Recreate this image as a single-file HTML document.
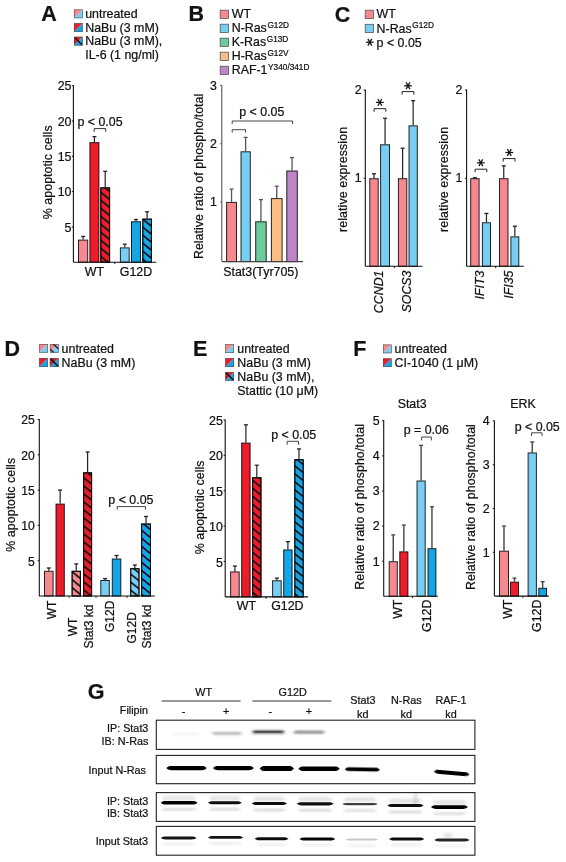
<!DOCTYPE html><html><head><meta charset="utf-8"><style>html,body{margin:0;padding:0;background:#fff;}svg{display:block;will-change:transform;}text{font-family:"Liberation Sans",sans-serif;stroke:#111;stroke-width:0.22px;}</style></head><body>
<svg width="566" height="862" viewBox="0 0 566 862" font-family="Liberation Sans, sans-serif" font-size="12.4">
<defs><pattern id="hatch" patternUnits="userSpaceOnUse" width="20" height="6.35" patternTransform="rotate(37)"><rect x="0" y="0" width="20" height="1.65" fill="#111"/></pattern></defs>
<rect width="566" height="862" fill="#fff"/>
<text x="41.3" y="21.0" font-weight="bold" font-size="21.5" fill="#111">A</text>
<polygon points="74,9.5 82.7,9.5 74,18.2" fill="#f6898f"/>
<polygon points="82.7,9.5 82.7,18.2 74,18.2" fill="#78cdf3"/>
<rect x="74.3" y="9.8" width="8.1" height="8.1" fill="none" stroke="#555" stroke-width="0.6"/>
<polygon points="74,23.3 82.7,23.3 74,32.0" fill="#ec1c2a"/>
<polygon points="82.7,23.3 82.7,32.0 74,32.0" fill="#15a4e4"/>
<rect x="74.3" y="23.6" width="8.1" height="8.1" fill="none" stroke="#555" stroke-width="0.6"/>
<polygon points="74,36.8 82.7,36.8 74,45.5" fill="#ec1c2a"/>
<polygon points="82.7,36.8 82.7,45.5 74,45.5" fill="#15a4e4"/>
<clipPath id="c1"><rect x="74" y="36.8" width="8.7" height="8.7"/></clipPath><g clip-path="url(#c1)">
<line x1="74.5" y1="37.3" x2="82.2" y2="45.0" stroke="#111" stroke-width="1.5"/>
<line x1="74" y1="40.714999999999996" x2="75.74" y2="42.455" stroke="#111" stroke-width="0.8"/>
</g>
<rect x="74.3" y="37.099999999999994" width="8.1" height="8.1" fill="none" stroke="#555" stroke-width="0.6"/>
<text x="85.2" y="18.0" fill="#111">untreated</text>
<text x="85.2" y="31.8" fill="#111">NaBu (3 mM)</text>
<text x="85.2" y="45.4" fill="#111">NaBu (3 mM),</text>
<text x="85.2" y="59.0" fill="#111">IL-6 (1 ng/ml)</text>
<line x1="73.4" y1="85.19999999999999" x2="73.4" y2="262.2" stroke="#111" stroke-width="1.1"/>
<line x1="71.80000000000001" y1="85.69999999999999" x2="73.4" y2="85.69999999999999" stroke="#111" stroke-width="1.0"/>
<text x="71.5" y="90.39999999999999" text-anchor="end" fill="#111">25</text>
<line x1="71.80000000000001" y1="121.0" x2="73.4" y2="121.0" stroke="#111" stroke-width="1.0"/>
<text x="71.5" y="125.7" text-anchor="end" fill="#111">20</text>
<line x1="71.80000000000001" y1="156.3" x2="73.4" y2="156.3" stroke="#111" stroke-width="1.0"/>
<text x="71.5" y="161.0" text-anchor="end" fill="#111">15</text>
<line x1="71.80000000000001" y1="191.6" x2="73.4" y2="191.6" stroke="#111" stroke-width="1.0"/>
<text x="71.5" y="196.29999999999998" text-anchor="end" fill="#111">10</text>
<line x1="71.80000000000001" y1="226.89999999999998" x2="73.4" y2="226.89999999999998" stroke="#111" stroke-width="1.0"/>
<text x="71.5" y="231.59999999999997" text-anchor="end" fill="#111">5</text>
<line x1="83.1" y1="239.608" x2="83.1" y2="236.43099999999998" stroke="#222" stroke-width="1.2"/>
<line x1="81.1" y1="236.43099999999998" x2="85.1" y2="236.43099999999998" stroke="#222" stroke-width="1.3"/>
<rect x="78.50" y="240.11" width="9.20" height="22.09" fill="#f6898f" stroke="rgba(0,0,0,0.84)" stroke-width="1"/>
<line x1="94.4" y1="142.18" x2="94.4" y2="136.6" stroke="#222" stroke-width="1.2"/>
<line x1="92.4" y1="136.6" x2="96.4" y2="136.6" stroke="#222" stroke-width="1.3"/>
<rect x="89.90" y="142.68" width="9.00" height="119.52" fill="#ec1c2a" stroke="rgba(0,0,0,0.84)" stroke-width="1"/>
<line x1="105.19999999999999" y1="187.36399999999998" x2="105.19999999999999" y2="171.3" stroke="#222" stroke-width="1.2"/>
<line x1="103.19999999999999" y1="171.3" x2="107.19999999999999" y2="171.3" stroke="#222" stroke-width="1.3"/>
<rect x="100.80" y="187.86" width="8.80" height="74.34" fill="#ec1c2a" stroke="rgba(0,0,0,0.84)" stroke-width="1"/>
<defs><pattern id="h1" patternUnits="userSpaceOnUse" width="40" height="6.22" patternTransform="translate(100.80 192.30) rotate(39)"><rect x="0" y="0" width="40" height="0.825" fill="#111"/><rect x="0" y="5.395" width="40" height="0.825" fill="#111"/></pattern></defs>
<rect x="100.80" y="187.86" width="8.80" height="74.34" fill="url(#h1)" stroke="rgba(0,0,0,0.84)" stroke-width="1"/>
<line x1="124.8" y1="247.374" x2="124.8" y2="244.197" stroke="#222" stroke-width="1.2"/>
<line x1="122.8" y1="244.197" x2="126.8" y2="244.197" stroke="#222" stroke-width="1.3"/>
<rect x="120.40" y="247.87" width="8.80" height="14.33" fill="#78cdf3" stroke="rgba(0,0,0,0.84)" stroke-width="1"/>
<line x1="136.0" y1="221.252" x2="136.0" y2="219.487" stroke="#222" stroke-width="1.2"/>
<line x1="134.0" y1="219.487" x2="138.0" y2="219.487" stroke="#222" stroke-width="1.3"/>
<rect x="131.50" y="221.75" width="9.00" height="40.45" fill="#15a4e4" stroke="rgba(0,0,0,0.84)" stroke-width="1"/>
<line x1="147.10000000000002" y1="218.6" x2="147.10000000000002" y2="211.8" stroke="#222" stroke-width="1.2"/>
<line x1="145.10000000000002" y1="211.8" x2="149.10000000000002" y2="211.8" stroke="#222" stroke-width="1.3"/>
<rect x="142.80" y="219.10" width="8.60" height="43.10" fill="#15a4e4" stroke="rgba(0,0,0,0.84)" stroke-width="1"/>
<defs><pattern id="h2" patternUnits="userSpaceOnUse" width="40" height="6.22" patternTransform="translate(142.80 219.20) rotate(39)"><rect x="0" y="0" width="40" height="0.825" fill="#111"/><rect x="0" y="5.395" width="40" height="0.825" fill="#111"/></pattern></defs>
<rect x="142.80" y="219.10" width="8.60" height="43.10" fill="url(#h2)" stroke="rgba(0,0,0,0.84)" stroke-width="1"/>
<line x1="73.4" y1="262.2" x2="156.4" y2="262.2" stroke="#111" stroke-width="1.1"/>
<line x1="114.8" y1="262.2" x2="114.8" y2="264.0" stroke="#111" stroke-width="1.0"/>
<text x="100.0" y="126.2" text-anchor="middle" fill="#111">p &lt; 0.05</text>
<path d="M94.2 131.8 L94.2 128.6 L105.7 128.6 L105.7 131.8" stroke="#333" stroke-width="1.0" fill="none"/>
<text x="94.4" y="276.0" text-anchor="middle" fill="#111">WT</text>
<text x="136.0" y="276.0" text-anchor="middle" fill="#111">G12D</text>
<text x="51.7" y="172.3" text-anchor="middle" transform="rotate(-90 51.7 172.3)" fill="#111" textLength="93.8" lengthAdjust="spacing">% apoptotic cells</text>
<text x="188.5" y="21.0" font-weight="bold" font-size="21.5" fill="#111">B</text>
<rect x="220.20000000000002" y="10.200000000000001" width="8.2" height="8.2" fill="#f6898f" stroke="#555" stroke-width="0.8"/>
<text x="231.7" y="18.4" fill="#111">WT</text>
<rect x="220.20000000000002" y="24.2" width="8.2" height="8.2" fill="#78cdf3" stroke="#555" stroke-width="0.8"/>
<text x="231.7" y="32.4" fill="#111">N-Ras<tspan dx="0.6" dy="-4.8" font-size="8.25">G12D</tspan></text>
<rect x="220.20000000000002" y="38.199999999999996" width="8.2" height="8.2" fill="#6ccb9a" stroke="#555" stroke-width="0.8"/>
<text x="231.7" y="46.4" fill="#111">K-Ras<tspan dx="0.6" dy="-4.8" font-size="8.25">G13D</tspan></text>
<rect x="220.20000000000002" y="52.199999999999996" width="8.2" height="8.2" fill="#fbbd84" stroke="#555" stroke-width="0.8"/>
<text x="231.7" y="60.4" fill="#111">H-Ras<tspan dx="0.6" dy="-4.8" font-size="8.25">G12V</tspan></text>
<rect x="220.20000000000002" y="66.2" width="8.2" height="8.2" fill="#bf85c8" stroke="#555" stroke-width="0.8"/>
<text x="231.7" y="74.39999999999999" fill="#111">RAF-1<tspan dx="0.6" dy="-4.8" font-size="8.25">Y340/341D</tspan></text>
<line x1="221.8" y1="84.89999999999999" x2="221.8" y2="261.6" stroke="#555" stroke-width="1.1"/>
<line x1="220.20000000000002" y1="85.39999999999999" x2="221.8" y2="85.39999999999999" stroke="#555" stroke-width="1.0"/>
<text x="216.8" y="89.69999999999999" text-anchor="end" fill="#111">3</text>
<line x1="220.20000000000002" y1="143.75" x2="221.8" y2="143.75" stroke="#555" stroke-width="1.0"/>
<text x="216.8" y="148.05" text-anchor="end" fill="#111">2</text>
<line x1="220.20000000000002" y1="202.1" x2="221.8" y2="202.1" stroke="#555" stroke-width="1.0"/>
<text x="216.8" y="206.4" text-anchor="end" fill="#111">1</text>
<line x1="231.55" y1="201.9" x2="231.55" y2="189.1" stroke="#555" stroke-width="1.3"/>
<line x1="229.55" y1="189.1" x2="233.55" y2="189.1" stroke="#555" stroke-width="1.3"/>
<rect x="226.60" y="202.40" width="9.90" height="59.20" fill="#f6898f" stroke="rgba(0,0,0,0.84)" stroke-width="1"/>
<line x1="245.65" y1="151.3" x2="245.65" y2="137.4" stroke="#555" stroke-width="1.3"/>
<line x1="243.65" y1="137.4" x2="247.65" y2="137.4" stroke="#555" stroke-width="1.3"/>
<rect x="241.00" y="151.80" width="9.30" height="109.80" fill="#78cdf3" stroke="rgba(0,0,0,0.84)" stroke-width="1"/>
<line x1="260.95" y1="221.3" x2="260.95" y2="199.6" stroke="#555" stroke-width="1.3"/>
<line x1="258.95" y1="199.6" x2="262.95" y2="199.6" stroke="#555" stroke-width="1.3"/>
<rect x="255.70" y="221.80" width="10.50" height="39.80" fill="#6ccb9a" stroke="rgba(0,0,0,0.84)" stroke-width="1"/>
<line x1="276.75" y1="198.1" x2="276.75" y2="186.2" stroke="#555" stroke-width="1.3"/>
<line x1="274.75" y1="186.2" x2="278.75" y2="186.2" stroke="#555" stroke-width="1.3"/>
<rect x="271.40" y="198.60" width="10.70" height="63.00" fill="#fbbd84" stroke="rgba(0,0,0,0.84)" stroke-width="1"/>
<line x1="292.05" y1="170.5" x2="292.05" y2="157.5" stroke="#555" stroke-width="1.3"/>
<line x1="290.05" y1="157.5" x2="294.05" y2="157.5" stroke="#555" stroke-width="1.3"/>
<rect x="286.80" y="171.00" width="10.50" height="90.60" fill="#bf85c8" stroke="rgba(0,0,0,0.84)" stroke-width="1"/>
<line x1="221.8" y1="261.6" x2="303.0" y2="261.6" stroke="#444" stroke-width="1.1"/>
<text x="261.8" y="116.0" text-anchor="middle" fill="#111">p &lt; 0.05</text>
<path d="M232.2 124.0 L232.2 121.0 L292.6 121.0 L292.6 124.0" stroke="#444" stroke-width="1.0" fill="none"/>
<path d="M232.2 132.7 L232.2 129.7 L245.5 129.7 L245.5 132.7" stroke="#444" stroke-width="1.0" fill="none"/>
<text x="260.8" y="276.0" text-anchor="middle" fill="#111">Stat3(Tyr705)</text>
<text x="202.9" y="176.4" text-anchor="middle" transform="rotate(-90 202.9 176.4)" fill="#111" textLength="165.4" lengthAdjust="spacing">Relative ratio of phospho/total</text>
<text x="334.8" y="21.5" font-weight="bold" font-size="21.5" fill="#111">C</text>
<rect x="365.2" y="10.200000000000001" width="8.2" height="8.2" fill="#f6898f" stroke="#555" stroke-width="0.8"/>
<rect x="365.2" y="24.299999999999997" width="8.2" height="8.2" fill="#78cdf3" stroke="#555" stroke-width="0.8"/>
<text x="376.6" y="18.4" fill="#111">WT</text>
<text x="376.6" y="32.5" fill="#111">N-Ras<tspan dx="0.6" dy="-4.8" font-size="8.25">G12D</tspan></text>
<line x1="365.9" y1="42.2" x2="373.7" y2="42.2" stroke="#111" stroke-width="1.25"/>
<line x1="367.85" y1="38.82" x2="371.75" y2="45.58" stroke="#111" stroke-width="1.25"/>
<line x1="371.75" y1="38.82" x2="367.85" y2="45.58" stroke="#111" stroke-width="1.25"/>
<text x="376.6" y="47.0" fill="#111">p &lt; 0.05</text>
<line x1="365.3" y1="89.60000000000002" x2="365.3" y2="266.3" stroke="#111" stroke-width="1.1"/>
<line x1="363.7" y1="90.10000000000002" x2="365.3" y2="90.10000000000002" stroke="#111" stroke-width="1.0"/>
<text x="361.7" y="94.10000000000002" text-anchor="end" fill="#111">2</text>
<line x1="363.7" y1="178.20000000000002" x2="365.3" y2="178.20000000000002" stroke="#111" stroke-width="1.0"/>
<text x="361.7" y="182.20000000000002" text-anchor="end" fill="#111">1</text>
<line x1="374.0" y1="178.20000000000002" x2="374.0" y2="173.79500000000002" stroke="#222" stroke-width="1.2"/>
<line x1="372.0" y1="173.79500000000002" x2="376.0" y2="173.79500000000002" stroke="#222" stroke-width="1.3"/>
<rect x="369.80" y="178.70" width="8.40" height="87.60" fill="#f6898f" stroke="rgba(0,0,0,0.84)" stroke-width="1"/>
<line x1="385.05" y1="144.28150000000002" x2="385.05" y2="118.29200000000003" stroke="#222" stroke-width="1.2"/>
<line x1="383.05" y1="118.29200000000003" x2="387.05" y2="118.29200000000003" stroke="#222" stroke-width="1.3"/>
<rect x="380.60" y="144.78" width="8.90" height="121.52" fill="#78cdf3" stroke="rgba(0,0,0,0.84)" stroke-width="1"/>
<line x1="402.6" y1="178.20000000000002" x2="402.6" y2="148.246" stroke="#222" stroke-width="1.2"/>
<line x1="400.6" y1="148.246" x2="404.6" y2="148.246" stroke="#222" stroke-width="1.3"/>
<rect x="398.40" y="178.70" width="8.40" height="87.60" fill="#f6898f" stroke="rgba(0,0,0,0.84)" stroke-width="1"/>
<line x1="413.15" y1="125.34" x2="413.15" y2="100.67200000000003" stroke="#222" stroke-width="1.2"/>
<line x1="411.15" y1="100.67200000000003" x2="415.15" y2="100.67200000000003" stroke="#222" stroke-width="1.3"/>
<rect x="409.00" y="125.84" width="8.30" height="140.46" fill="#78cdf3" stroke="rgba(0,0,0,0.84)" stroke-width="1"/>
<line x1="365.3" y1="266.3" x2="422.5" y2="266.3" stroke="#111" stroke-width="1.1"/>
<line x1="394.40000000000003" y1="266.3" x2="394.40000000000003" y2="268.1" stroke="#111" stroke-width="1.0"/>
<text x="347.2" y="179.45" text-anchor="middle" transform="rotate(-90 347.2 179.45)" fill="#111" textLength="105.1" lengthAdjust="spacing">relative expression</text>
<line x1="466.6" y1="89.60000000000002" x2="466.6" y2="266.3" stroke="#111" stroke-width="1.1"/>
<line x1="465.0" y1="90.10000000000002" x2="466.6" y2="90.10000000000002" stroke="#111" stroke-width="1.0"/>
<text x="462.3" y="94.10000000000002" text-anchor="end" fill="#111">2</text>
<line x1="465.0" y1="178.20000000000002" x2="466.6" y2="178.20000000000002" stroke="#111" stroke-width="1.0"/>
<text x="462.3" y="182.20000000000002" text-anchor="end" fill="#111">1</text>
<line x1="474.9" y1="178.20000000000002" x2="474.9" y2="177.75950000000003" stroke="#222" stroke-width="1.2"/>
<line x1="472.9" y1="177.75950000000003" x2="476.9" y2="177.75950000000003" stroke="#222" stroke-width="1.3"/>
<rect x="470.70" y="178.70" width="8.40" height="87.60" fill="#f6898f" stroke="rgba(0,0,0,0.84)" stroke-width="1"/>
<line x1="486.45" y1="222.25" x2="486.45" y2="213.44000000000003" stroke="#222" stroke-width="1.2"/>
<line x1="484.45" y1="213.44000000000003" x2="488.45" y2="213.44000000000003" stroke="#222" stroke-width="1.3"/>
<rect x="482.40" y="222.75" width="8.10" height="43.55" fill="#78cdf3" stroke="rgba(0,0,0,0.84)" stroke-width="1"/>
<line x1="503.75" y1="178.20000000000002" x2="503.75" y2="165.86600000000004" stroke="#222" stroke-width="1.2"/>
<line x1="501.75" y1="165.86600000000004" x2="505.75" y2="165.86600000000004" stroke="#222" stroke-width="1.3"/>
<rect x="499.50" y="178.70" width="8.50" height="87.60" fill="#f6898f" stroke="rgba(0,0,0,0.84)" stroke-width="1"/>
<line x1="514.8499999999999" y1="236.346" x2="514.8499999999999" y2="226.21450000000002" stroke="#222" stroke-width="1.2"/>
<line x1="512.8499999999999" y1="226.21450000000002" x2="516.8499999999999" y2="226.21450000000002" stroke="#222" stroke-width="1.3"/>
<rect x="510.90" y="236.85" width="7.90" height="29.45" fill="#78cdf3" stroke="rgba(0,0,0,0.84)" stroke-width="1"/>
<line x1="466.6" y1="266.3" x2="523.8000000000001" y2="266.3" stroke="#111" stroke-width="1.1"/>
<line x1="495.70000000000005" y1="266.3" x2="495.70000000000005" y2="268.1" stroke="#111" stroke-width="1.0"/>
<text x="448.5" y="179.45" text-anchor="middle" transform="rotate(-90 448.5 179.45)" fill="#111" textLength="105.1" lengthAdjust="spacing">relative expression</text>
<text x="383.0" y="270.5" text-anchor="end" font-style="italic" transform="rotate(-90 383.0 270.5)" fill="#111">CCND1</text>
<text x="410.90000000000003" y="270.5" text-anchor="end" font-style="italic" transform="rotate(-90 410.90000000000003 270.5)" fill="#111">SOCS3</text>
<text x="484.3" y="270.5" text-anchor="end" font-style="italic" transform="rotate(-90 484.3 270.5)" fill="#111">IFIT3</text>
<text x="513.3" y="270.5" text-anchor="end" font-style="italic" transform="rotate(-90 513.3 270.5)" fill="#111">IFI35</text>
<path d="M374.1 111.7 L374.1 108.7 L385.8 108.7 L385.8 111.7" stroke="#222" stroke-width="1.0" fill="none"/>
<line x1="375.9" y1="102.4" x2="383.7" y2="102.4" stroke="#111" stroke-width="1.25"/>
<line x1="377.85" y1="99.02" x2="381.75" y2="105.78" stroke="#111" stroke-width="1.25"/>
<line x1="381.75" y1="99.02" x2="377.85" y2="105.78" stroke="#111" stroke-width="1.25"/>
<path d="M402.1 94.6 L402.1 91.6 L413.8 91.6 L413.8 94.6" stroke="#222" stroke-width="1.0" fill="none"/>
<line x1="404.1" y1="85.8" x2="411.9" y2="85.8" stroke="#111" stroke-width="1.25"/>
<line x1="406.05" y1="82.42" x2="409.95" y2="89.18" stroke="#111" stroke-width="1.25"/>
<line x1="409.95" y1="82.42" x2="406.05" y2="89.18" stroke="#111" stroke-width="1.25"/>
<path d="M475.1 172.2 L475.1 169.2 L486.8 169.2 L486.8 172.2" stroke="#222" stroke-width="1.0" fill="none"/>
<line x1="476.9" y1="162.8" x2="484.7" y2="162.8" stroke="#111" stroke-width="1.25"/>
<line x1="478.85" y1="159.42" x2="482.75" y2="166.18" stroke="#111" stroke-width="1.25"/>
<line x1="482.75" y1="159.42" x2="478.85" y2="166.18" stroke="#111" stroke-width="1.25"/>
<path d="M503.2 161.6 L503.2 158.6 L515.0 158.6 L515.0 161.6" stroke="#222" stroke-width="1.0" fill="none"/>
<line x1="505.4" y1="152.5" x2="513.2" y2="152.5" stroke="#111" stroke-width="1.25"/>
<line x1="507.35" y1="149.12" x2="511.25" y2="155.88" stroke="#111" stroke-width="1.25"/>
<line x1="511.25" y1="149.12" x2="507.35" y2="155.88" stroke="#111" stroke-width="1.25"/>
<text x="4.5" y="355.8" font-weight="bold" font-size="21.5" fill="#111">D</text>
<polygon points="39.2,344.0 48.0,344.0 39.2,352.8" fill="#f6898f"/>
<polygon points="48.0,344.0 48.0,352.8 39.2,352.8" fill="#78cdf3"/>
<rect x="39.5" y="344.3" width="8.200000000000001" height="8.200000000000001" fill="none" stroke="#555" stroke-width="0.6"/>
<polygon points="49.9,344.0 58.7,344.0 49.9,352.8" fill="#f6898f"/>
<polygon points="58.7,344.0 58.7,352.8 49.9,352.8" fill="#78cdf3"/>
<clipPath id="c2"><rect x="49.9" y="344.0" width="8.8" height="8.8"/></clipPath><g clip-path="url(#c2)">
<line x1="53.24" y1="344.0" x2="58.7" y2="349.1" stroke="#111" stroke-width="1.3"/>
<line x1="49.9" y1="348.84" x2="53.86" y2="352.8" stroke="#111" stroke-width="1.3"/>
</g>
<rect x="50.199999999999996" y="344.3" width="8.200000000000001" height="8.200000000000001" fill="none" stroke="#555" stroke-width="0.6"/>
<polygon points="39.2,358.1 48.0,358.1 39.2,366.90000000000003" fill="#ec1c2a"/>
<polygon points="48.0,358.1 48.0,366.90000000000003 39.2,366.90000000000003" fill="#15a4e4"/>
<rect x="39.5" y="358.40000000000003" width="8.200000000000001" height="8.200000000000001" fill="none" stroke="#555" stroke-width="0.6"/>
<polygon points="49.9,358.1 58.7,358.1 49.9,366.90000000000003" fill="#ec1c2a"/>
<polygon points="58.7,358.1 58.7,366.90000000000003 49.9,366.90000000000003" fill="#15a4e4"/>
<clipPath id="c3"><rect x="49.9" y="358.1" width="8.8" height="8.8"/></clipPath><g clip-path="url(#c3)">
<line x1="50.4" y1="358.6" x2="58.2" y2="366.40000000000003" stroke="#111" stroke-width="1.5"/>
<line x1="49.9" y1="362.06" x2="51.66" y2="363.82000000000005" stroke="#111" stroke-width="0.8"/>
</g>
<rect x="50.199999999999996" y="358.40000000000003" width="8.200000000000001" height="8.200000000000001" fill="none" stroke="#555" stroke-width="0.6"/>
<text x="61.6" y="352.6" fill="#111">untreated</text>
<text x="61.6" y="366.9" fill="#111">NaBu (3 mM)</text>
<line x1="39.3" y1="419.0" x2="39.3" y2="596.0" stroke="#111" stroke-width="1.1"/>
<line x1="37.699999999999996" y1="419.5" x2="39.3" y2="419.5" stroke="#111" stroke-width="1.0"/>
<text x="34.699999999999996" y="424.3" text-anchor="end" font-size="12.1" fill="#111">25</text>
<line x1="37.699999999999996" y1="454.8" x2="39.3" y2="454.8" stroke="#111" stroke-width="1.0"/>
<text x="34.699999999999996" y="459.6" text-anchor="end" font-size="12.1" fill="#111">20</text>
<line x1="37.699999999999996" y1="490.1" x2="39.3" y2="490.1" stroke="#111" stroke-width="1.0"/>
<text x="34.699999999999996" y="494.90000000000003" text-anchor="end" font-size="12.1" fill="#111">15</text>
<line x1="37.699999999999996" y1="525.4" x2="39.3" y2="525.4" stroke="#111" stroke-width="1.0"/>
<text x="34.699999999999996" y="530.1999999999999" text-anchor="end" font-size="12.1" fill="#111">10</text>
<line x1="37.699999999999996" y1="560.7" x2="39.3" y2="560.7" stroke="#111" stroke-width="1.0"/>
<text x="34.699999999999996" y="565.5" text-anchor="end" font-size="12.1" fill="#111">5</text>
<line x1="48.8" y1="570.8" x2="48.8" y2="568.0" stroke="#222" stroke-width="1.2"/>
<line x1="46.8" y1="568.0" x2="50.8" y2="568.0" stroke="#222" stroke-width="1.3"/>
<rect x="44.50" y="571.30" width="8.60" height="24.70" fill="#f6898f" stroke="rgba(0,0,0,0.84)" stroke-width="1"/>
<line x1="60.15" y1="503.6" x2="60.15" y2="490.1" stroke="#222" stroke-width="1.2"/>
<line x1="58.15" y1="490.1" x2="62.15" y2="490.1" stroke="#222" stroke-width="1.3"/>
<rect x="56.00" y="504.10" width="8.30" height="91.90" fill="#ec1c2a" stroke="rgba(0,0,0,0.84)" stroke-width="1"/>
<line x1="76.25" y1="570.8" x2="76.25" y2="563.9" stroke="#222" stroke-width="1.2"/>
<line x1="74.25" y1="563.9" x2="78.25" y2="563.9" stroke="#222" stroke-width="1.3"/>
<rect x="72.10" y="571.30" width="8.30" height="24.70" fill="#f6898f" stroke="rgba(0,0,0,0.84)" stroke-width="1"/>
<defs><pattern id="h3" patternUnits="userSpaceOnUse" width="40" height="6.22" patternTransform="translate(72.10 571.70) rotate(39)"><rect x="0" y="0" width="40" height="0.825" fill="#111"/><rect x="0" y="5.395" width="40" height="0.825" fill="#111"/></pattern></defs>
<rect x="72.10" y="571.30" width="8.30" height="24.70" fill="url(#h3)" stroke="rgba(0,0,0,0.84)" stroke-width="1"/>
<line x1="87.6" y1="472.3" x2="87.6" y2="452.0" stroke="#222" stroke-width="1.2"/>
<line x1="85.6" y1="452.0" x2="89.6" y2="452.0" stroke="#222" stroke-width="1.3"/>
<rect x="83.60" y="472.80" width="8.00" height="123.20" fill="#ec1c2a" stroke="rgba(0,0,0,0.84)" stroke-width="1"/>
<defs><pattern id="h4" patternUnits="userSpaceOnUse" width="40" height="6.22" patternTransform="translate(83.60 477.70) rotate(39)"><rect x="0" y="0" width="40" height="0.825" fill="#111"/><rect x="0" y="5.395" width="40" height="0.825" fill="#111"/></pattern></defs>
<rect x="83.60" y="472.80" width="8.00" height="123.20" fill="url(#h4)" stroke="rgba(0,0,0,0.84)" stroke-width="1"/>
<line x1="105.05" y1="580.0" x2="105.05" y2="578.6" stroke="#222" stroke-width="1.2"/>
<line x1="103.05" y1="578.6" x2="107.05" y2="578.6" stroke="#222" stroke-width="1.3"/>
<rect x="100.80" y="580.50" width="8.50" height="15.50" fill="#78cdf3" stroke="rgba(0,0,0,0.84)" stroke-width="1"/>
<line x1="116.55" y1="558.5" x2="116.55" y2="555.5" stroke="#222" stroke-width="1.2"/>
<line x1="114.55" y1="555.5" x2="118.55" y2="555.5" stroke="#222" stroke-width="1.3"/>
<rect x="112.30" y="559.00" width="8.50" height="37.00" fill="#15a4e4" stroke="rgba(0,0,0,0.84)" stroke-width="1"/>
<line x1="134.85" y1="568.2" x2="134.85" y2="565.0" stroke="#222" stroke-width="1.2"/>
<line x1="132.85" y1="565.0" x2="136.85" y2="565.0" stroke="#222" stroke-width="1.3"/>
<rect x="130.70" y="568.70" width="8.30" height="27.30" fill="#78cdf3" stroke="rgba(0,0,0,0.84)" stroke-width="1"/>
<defs><pattern id="h5" patternUnits="userSpaceOnUse" width="40" height="6.22" patternTransform="translate(130.70 574.10) rotate(39)"><rect x="0" y="0" width="40" height="0.825" fill="#111"/><rect x="0" y="5.395" width="40" height="0.825" fill="#111"/></pattern></defs>
<rect x="130.70" y="568.70" width="8.30" height="27.30" fill="url(#h5)" stroke="rgba(0,0,0,0.84)" stroke-width="1"/>
<line x1="146.05" y1="523.5" x2="146.05" y2="516.5" stroke="#222" stroke-width="1.2"/>
<line x1="144.05" y1="516.5" x2="148.05" y2="516.5" stroke="#222" stroke-width="1.3"/>
<rect x="141.60" y="524.00" width="8.90" height="72.00" fill="#15a4e4" stroke="rgba(0,0,0,0.84)" stroke-width="1"/>
<defs><pattern id="h6" patternUnits="userSpaceOnUse" width="40" height="6.22" patternTransform="translate(141.60 530.40) rotate(39)"><rect x="0" y="0" width="40" height="0.825" fill="#111"/><rect x="0" y="5.395" width="40" height="0.825" fill="#111"/></pattern></defs>
<rect x="141.60" y="524.00" width="8.90" height="72.00" fill="url(#h6)" stroke="rgba(0,0,0,0.84)" stroke-width="1"/>
<line x1="39.0" y1="596.0" x2="154.8" y2="596.0" stroke="#111" stroke-width="1.1"/>
<line x1="69.0" y1="596.0" x2="69.0" y2="597.8" stroke="#111" stroke-width="1.0"/>
<line x1="96.0" y1="596.0" x2="96.0" y2="597.8" stroke="#111" stroke-width="1.0"/>
<line x1="127.0" y1="596.0" x2="127.0" y2="597.8" stroke="#111" stroke-width="1.0"/>
<text x="130.9" y="504.1" text-anchor="middle" fill="#111">p &lt; 0.05</text>
<path d="M117.2 509.6 L117.2 506.6 L145.5 506.6 L145.5 509.6" stroke="#444" stroke-width="1.0" fill="none"/>
<text x="15.1" y="504.8" text-anchor="middle" transform="rotate(-90 15.1 504.8)" fill="#111" textLength="93.8" lengthAdjust="spacing">% apoptotic cells</text>
<text x="56.4" y="600.6" text-anchor="end" font-size="12" transform="rotate(-90 56.4 600.6)" fill="#111">WT</text>
<text x="76.6" y="627.0" text-anchor="middle" font-size="12" transform="rotate(-90 76.6 627.0)" fill="#111">WT</text>
<text x="93.0" y="626.5" text-anchor="middle" font-size="12" transform="rotate(-90 93.0 626.5)" fill="#111">Stat3 kd</text>
<text x="114.0" y="600.6" text-anchor="end" font-size="12" transform="rotate(-90 114.0 600.6)" fill="#111">G12D</text>
<text x="136.3" y="627.8" text-anchor="middle" font-size="12" transform="rotate(-90 136.3 627.8)" fill="#111">G12D</text>
<text x="151.2" y="626.5" text-anchor="middle" font-size="12" transform="rotate(-90 151.2 626.5)" fill="#111">Stat3 kd</text>
<text x="193.0" y="355.8" font-weight="bold" font-size="21.5" fill="#111">E</text>
<polygon points="225.3,344.3 234.0,344.3 225.3,353.0" fill="#f6898f"/>
<polygon points="234.0,344.3 234.0,353.0 225.3,353.0" fill="#78cdf3"/>
<rect x="225.60000000000002" y="344.6" width="8.1" height="8.1" fill="none" stroke="#555" stroke-width="0.6"/>
<polygon points="225.3,358.3 234.0,358.3 225.3,367.0" fill="#ec1c2a"/>
<polygon points="234.0,358.3 234.0,367.0 225.3,367.0" fill="#15a4e4"/>
<rect x="225.60000000000002" y="358.6" width="8.1" height="8.1" fill="none" stroke="#555" stroke-width="0.6"/>
<polygon points="225.3,372.0 234.0,372.0 225.3,380.7" fill="#ec1c2a"/>
<polygon points="234.0,372.0 234.0,380.7 225.3,380.7" fill="#15a4e4"/>
<clipPath id="c4"><rect x="225.3" y="372.0" width="8.7" height="8.7"/></clipPath><g clip-path="url(#c4)">
<line x1="225.8" y1="372.5" x2="233.5" y2="380.2" stroke="#111" stroke-width="1.5"/>
<line x1="225.3" y1="375.915" x2="227.04000000000002" y2="377.655" stroke="#111" stroke-width="0.8"/>
</g>
<rect x="225.60000000000002" y="372.3" width="8.1" height="8.1" fill="none" stroke="#555" stroke-width="0.6"/>
<text x="237.3" y="353.1" fill="#111">untreated</text>
<text x="237.3" y="367.4" fill="#111">NaBu (3 mM)</text>
<text x="237.3" y="381.1" fill="#111">NaBu (3 mM),</text>
<text x="237.3" y="395.1" fill="#111">Stattic (10 &#956;M)</text>
<line x1="225.2" y1="419.4" x2="225.2" y2="596.9" stroke="#111" stroke-width="1.1"/>
<line x1="223.6" y1="419.9" x2="225.2" y2="419.9" stroke="#111" stroke-width="1.0"/>
<text x="222.89999999999998" y="424.9" text-anchor="end" fill="#111">25</text>
<line x1="223.6" y1="455.29999999999995" x2="225.2" y2="455.29999999999995" stroke="#111" stroke-width="1.0"/>
<text x="222.89999999999998" y="460.29999999999995" text-anchor="end" fill="#111">20</text>
<line x1="223.6" y1="490.7" x2="225.2" y2="490.7" stroke="#111" stroke-width="1.0"/>
<text x="222.89999999999998" y="495.7" text-anchor="end" fill="#111">15</text>
<line x1="223.6" y1="526.1" x2="225.2" y2="526.1" stroke="#111" stroke-width="1.0"/>
<text x="222.89999999999998" y="531.1" text-anchor="end" fill="#111">10</text>
<line x1="223.6" y1="561.5" x2="225.2" y2="561.5" stroke="#111" stroke-width="1.0"/>
<text x="222.89999999999998" y="566.5" text-anchor="end" fill="#111">5</text>
<line x1="234.89999999999998" y1="571.412" x2="234.89999999999998" y2="566.102" stroke="#222" stroke-width="1.2"/>
<line x1="232.89999999999998" y1="566.102" x2="236.89999999999998" y2="566.102" stroke="#222" stroke-width="1.3"/>
<rect x="230.60" y="571.91" width="8.60" height="24.99" fill="#f6898f" stroke="rgba(0,0,0,0.84)" stroke-width="1"/>
<line x1="245.89999999999998" y1="442.556" x2="245.89999999999998" y2="424.856" stroke="#222" stroke-width="1.2"/>
<line x1="243.89999999999998" y1="424.856" x2="247.89999999999998" y2="424.856" stroke="#222" stroke-width="1.3"/>
<rect x="241.70" y="443.06" width="8.40" height="153.84" fill="#ec1c2a" stroke="rgba(0,0,0,0.84)" stroke-width="1"/>
<line x1="256.8" y1="477.248" x2="256.8" y2="465.212" stroke="#222" stroke-width="1.2"/>
<line x1="254.8" y1="465.212" x2="258.8" y2="465.212" stroke="#222" stroke-width="1.3"/>
<rect x="252.60" y="477.75" width="8.40" height="119.15" fill="#ec1c2a" stroke="rgba(0,0,0,0.84)" stroke-width="1"/>
<defs><pattern id="h7" patternUnits="userSpaceOnUse" width="40" height="6.22" patternTransform="translate(252.60 480.30) rotate(39)"><rect x="0" y="0" width="40" height="0.825" fill="#111"/><rect x="0" y="5.395" width="40" height="0.825" fill="#111"/></pattern></defs>
<rect x="252.60" y="477.75" width="8.40" height="119.15" fill="url(#h7)" stroke="rgba(0,0,0,0.84)" stroke-width="1"/>
<line x1="276.9" y1="580.262" x2="276.9" y2="578.1379999999999" stroke="#222" stroke-width="1.2"/>
<line x1="274.9" y1="578.1379999999999" x2="278.9" y2="578.1379999999999" stroke="#222" stroke-width="1.3"/>
<rect x="272.60" y="580.76" width="8.60" height="16.14" fill="#78cdf3" stroke="rgba(0,0,0,0.84)" stroke-width="1"/>
<line x1="287.9" y1="549.4639999999999" x2="287.9" y2="541.6759999999999" stroke="#222" stroke-width="1.2"/>
<line x1="285.9" y1="541.6759999999999" x2="289.9" y2="541.6759999999999" stroke="#222" stroke-width="1.3"/>
<rect x="283.70" y="549.96" width="8.40" height="46.94" fill="#15a4e4" stroke="rgba(0,0,0,0.84)" stroke-width="1"/>
<line x1="299.0" y1="459.19399999999996" x2="299.0" y2="448.928" stroke="#222" stroke-width="1.2"/>
<line x1="297.0" y1="448.928" x2="301.0" y2="448.928" stroke="#222" stroke-width="1.3"/>
<rect x="294.80" y="459.69" width="8.40" height="137.21" fill="#15a4e4" stroke="rgba(0,0,0,0.84)" stroke-width="1"/>
<defs><pattern id="h8" patternUnits="userSpaceOnUse" width="40" height="6.22" patternTransform="translate(294.80 465.80) rotate(39)"><rect x="0" y="0" width="40" height="0.825" fill="#111"/><rect x="0" y="5.395" width="40" height="0.825" fill="#111"/></pattern></defs>
<rect x="294.80" y="459.69" width="8.40" height="137.21" fill="url(#h8)" stroke="rgba(0,0,0,0.84)" stroke-width="1"/>
<line x1="225.0" y1="596.9" x2="308.2" y2="596.9" stroke="#111" stroke-width="1.1"/>
<line x1="266.1" y1="596.9" x2="266.1" y2="598.6999999999999" stroke="#111" stroke-width="1.0"/>
<text x="293.7" y="438.5" text-anchor="middle" fill="#111">p &lt; 0.05</text>
<path d="M287.2 444.8 L287.2 441.3 L298.6 441.3 L298.6 444.8" stroke="#444" stroke-width="1.0" fill="none"/>
<text x="246.5" y="609.9" text-anchor="middle" fill="#111">WT</text>
<text x="287.4" y="609.9" text-anchor="middle" fill="#111">G12D</text>
<text x="203.8" y="507.4" text-anchor="middle" transform="rotate(-90 203.8 507.4)" fill="#111" textLength="93.7" lengthAdjust="spacing">% apoptotic cells</text>
<text x="353.2" y="356.0" font-weight="bold" font-size="21.5" fill="#111">F</text>
<polygon points="383.0,344.6 391.6,344.6 383.0,353.20000000000005" fill="#f6898f"/>
<polygon points="391.6,344.6 391.6,353.20000000000005 383.0,353.20000000000005" fill="#78cdf3"/>
<rect x="383.3" y="344.90000000000003" width="8.0" height="8.0" fill="none" stroke="#555" stroke-width="0.6"/>
<polygon points="383.0,358.4 391.6,358.4 383.0,367.0" fill="#ec1c2a"/>
<polygon points="391.6,358.4 391.6,367.0 383.0,367.0" fill="#15a4e4"/>
<rect x="383.3" y="358.7" width="8.0" height="8.0" fill="none" stroke="#555" stroke-width="0.6"/>
<text x="394.6" y="352.9" fill="#111">untreated</text>
<text x="394.6" y="366.8" fill="#111">CI-1040 (1 &#956;M)</text>
<text x="412.1" y="407.5" text-anchor="middle" fill="#111">Stat3</text>
<text x="523.0" y="407.5" text-anchor="middle" fill="#111">ERK</text>
<line x1="383.7" y1="420.29999999999995" x2="383.7" y2="596.3" stroke="#111" stroke-width="1.1"/>
<line x1="382.09999999999997" y1="420.79999999999995" x2="383.7" y2="420.79999999999995" stroke="#111" stroke-width="1.0"/>
<text x="379.7" y="425.09999999999997" text-anchor="end" fill="#111">5</text>
<line x1="382.09999999999997" y1="455.9" x2="383.7" y2="455.9" stroke="#111" stroke-width="1.0"/>
<text x="379.7" y="460.2" text-anchor="end" fill="#111">4</text>
<line x1="382.09999999999997" y1="490.99999999999994" x2="383.7" y2="490.99999999999994" stroke="#111" stroke-width="1.0"/>
<text x="379.7" y="495.29999999999995" text-anchor="end" fill="#111">3</text>
<line x1="382.09999999999997" y1="526.0999999999999" x2="383.7" y2="526.0999999999999" stroke="#111" stroke-width="1.0"/>
<text x="379.7" y="530.3999999999999" text-anchor="end" fill="#111">2</text>
<line x1="382.09999999999997" y1="561.1999999999999" x2="383.7" y2="561.1999999999999" stroke="#111" stroke-width="1.0"/>
<text x="379.7" y="565.4999999999999" text-anchor="end" fill="#111">1</text>
<line x1="393.25" y1="561.1999999999999" x2="393.25" y2="534.875" stroke="#444" stroke-width="1.4"/>
<line x1="391.25" y1="534.875" x2="395.25" y2="534.875" stroke="#444" stroke-width="1.3"/>
<rect x="389.20" y="561.70" width="8.10" height="34.60" fill="#f6898f" stroke="rgba(0,0,0,0.84)" stroke-width="1"/>
<line x1="403.85" y1="551.372" x2="403.85" y2="525.0469999999999" stroke="#444" stroke-width="1.4"/>
<line x1="401.85" y1="525.0469999999999" x2="405.85" y2="525.0469999999999" stroke="#444" stroke-width="1.3"/>
<rect x="399.80" y="551.87" width="8.10" height="44.43" fill="#ec1c2a" stroke="rgba(0,0,0,0.84)" stroke-width="1"/>
<line x1="421.1" y1="480.5" x2="421.1" y2="445.36999999999995" stroke="#444" stroke-width="1.4"/>
<line x1="419.1" y1="445.36999999999995" x2="423.1" y2="445.36999999999995" stroke="#444" stroke-width="1.3"/>
<rect x="417.00" y="481.00" width="8.20" height="115.30" fill="#78cdf3" stroke="rgba(0,0,0,0.84)" stroke-width="1"/>
<line x1="431.95" y1="548.213" x2="431.95" y2="506.79499999999996" stroke="#444" stroke-width="1.4"/>
<line x1="429.95" y1="506.79499999999996" x2="433.95" y2="506.79499999999996" stroke="#444" stroke-width="1.3"/>
<rect x="428.00" y="548.71" width="7.90" height="47.59" fill="#15a4e4" stroke="rgba(0,0,0,0.84)" stroke-width="1"/>
<line x1="383.7" y1="596.3" x2="438.0" y2="596.3" stroke="#111" stroke-width="1.1"/>
<line x1="412.4" y1="596.3" x2="412.4" y2="598.0999999999999" stroke="#111" stroke-width="1.0"/>
<text x="426.3" y="434.4" text-anchor="middle" fill="#111">p = 0.06</text>
<path d="M421.6 440.4 L421.6 437.0 L431.3 437.0 L431.3 440.4" stroke="#444" stroke-width="1.0" fill="none"/>
<text x="364.3" y="506.9" text-anchor="middle" transform="rotate(-90 364.3 506.9)" fill="#111" textLength="165.8" lengthAdjust="spacing">Relative ratio of phospho/total</text>
<text x="401.6" y="599.6" text-anchor="end" transform="rotate(-90 401.6 599.6)" fill="#111">WT</text>
<text x="430.6" y="599.6" text-anchor="end" transform="rotate(-90 430.6 599.6)" fill="#111">G12D</text>
<line x1="494.4" y1="420.40000000000003" x2="494.4" y2="596.1" stroke="#111" stroke-width="1.1"/>
<line x1="492.79999999999995" y1="420.90000000000003" x2="494.4" y2="420.90000000000003" stroke="#111" stroke-width="1.0"/>
<text x="489.7" y="425.20000000000005" text-anchor="end" fill="#111">4</text>
<line x1="492.79999999999995" y1="464.70000000000005" x2="494.4" y2="464.70000000000005" stroke="#111" stroke-width="1.0"/>
<text x="489.7" y="469.00000000000006" text-anchor="end" fill="#111">3</text>
<line x1="492.79999999999995" y1="508.5" x2="494.4" y2="508.5" stroke="#111" stroke-width="1.0"/>
<text x="489.7" y="512.8" text-anchor="end" fill="#111">2</text>
<line x1="492.79999999999995" y1="552.3000000000001" x2="494.4" y2="552.3000000000001" stroke="#111" stroke-width="1.0"/>
<text x="489.7" y="556.6" text-anchor="end" fill="#111">1</text>
<line x1="504.0" y1="550.7" x2="504.0" y2="526.02" stroke="#444" stroke-width="1.4"/>
<line x1="502.0" y1="526.02" x2="506.0" y2="526.02" stroke="#444" stroke-width="1.3"/>
<rect x="499.50" y="551.20" width="9.00" height="44.90" fill="#f6898f" stroke="rgba(0,0,0,0.84)" stroke-width="1"/>
<line x1="514.5" y1="581.6460000000001" x2="514.5" y2="578.142" stroke="#444" stroke-width="1.4"/>
<line x1="512.5" y1="578.142" x2="516.5" y2="578.142" stroke="#444" stroke-width="1.3"/>
<rect x="510.50" y="582.15" width="8.00" height="13.95" fill="#ec1c2a" stroke="rgba(0,0,0,0.84)" stroke-width="1"/>
<line x1="532.25" y1="452.43600000000004" x2="532.25" y2="441.92400000000004" stroke="#444" stroke-width="1.4"/>
<line x1="530.25" y1="441.92400000000004" x2="534.25" y2="441.92400000000004" stroke="#444" stroke-width="1.3"/>
<rect x="528.10" y="452.94" width="8.30" height="143.16" fill="#78cdf3" stroke="rgba(0,0,0,0.84)" stroke-width="1"/>
<line x1="542.65" y1="587.778" x2="542.65" y2="581.6460000000001" stroke="#444" stroke-width="1.4"/>
<line x1="540.65" y1="581.6460000000001" x2="544.65" y2="581.6460000000001" stroke="#444" stroke-width="1.3"/>
<rect x="538.80" y="588.28" width="7.70" height="7.82" fill="#15a4e4" stroke="rgba(0,0,0,0.84)" stroke-width="1"/>
<line x1="494.5" y1="596.1" x2="548.7" y2="596.1" stroke="#111" stroke-width="1.1"/>
<line x1="522.9" y1="596.1" x2="522.9" y2="597.9" stroke="#111" stroke-width="1.0"/>
<text x="537.2" y="430.8" text-anchor="middle" fill="#111">p &lt; 0.05</text>
<path d="M531.6 436.0 L531.6 432.8 L542.0 432.8 L542.0 436.0" stroke="#444" stroke-width="1.0" fill="none"/>
<text x="475.3" y="507.0" text-anchor="middle" transform="rotate(-90 475.3 507.0)" fill="#111" textLength="165.8" lengthAdjust="spacing">Relative ratio of phospho/total</text>
<text x="512.1" y="599.6" text-anchor="end" transform="rotate(-90 512.1 599.6)" fill="#111">WT</text>
<text x="541.3" y="599.6" text-anchor="end" transform="rotate(-90 541.3 599.6)" fill="#111">G12D</text>
<text x="87.8" y="699.4" font-weight="bold" font-size="21.5" fill="#111">G</text>
<text x="203.7" y="695.8" text-anchor="middle" font-size="10.8" fill="#111">WT</text>
<text x="292.6" y="695.8" text-anchor="middle" font-size="10.8" fill="#111">G12D</text>
<line x1="161.7" y1="701.0" x2="240.6" y2="701.0" stroke="#333" stroke-width="1.0"/>
<line x1="252.4" y1="701.0" x2="331.3" y2="701.0" stroke="#333" stroke-width="1.0"/>
<text x="148.0" y="713.5" text-anchor="end" font-size="10.8" fill="#111">Filipin</text>
<text x="183.6" y="715.0" text-anchor="middle" font-size="10.8" fill="#111">-</text>
<text x="226.2" y="715.0" text-anchor="middle" font-size="10.8" fill="#111">+</text>
<text x="270.2" y="715.0" text-anchor="middle" font-size="10.8" fill="#111">-</text>
<text x="308.8" y="715.0" text-anchor="middle" font-size="10.8" fill="#111">+</text>
<text x="362.8" y="703.8" text-anchor="middle" font-size="10.8" fill="#111">Stat3</text>
<text x="362.8" y="717.5" text-anchor="middle" font-size="10.8" fill="#111">kd</text>
<text x="406.3" y="703.8" text-anchor="middle" font-size="10.8" fill="#111">N-Ras</text>
<text x="406.3" y="717.5" text-anchor="middle" font-size="10.8" fill="#111">kd</text>
<text x="451.0" y="703.8" text-anchor="middle" font-size="10.8" fill="#111">RAF-1</text>
<text x="451.0" y="717.5" text-anchor="middle" font-size="10.8" fill="#111">kd</text>
<text x="148.4" y="732.3" text-anchor="end" font-size="10.8" fill="#111">IP: Stat3</text>
<text x="148.4" y="744.8" text-anchor="end" font-size="10.8" fill="#111">IB: N-Ras</text>
<text x="146.0" y="774.0" text-anchor="end" font-size="10.8" fill="#111">Input N-Ras</text>
<text x="148.3" y="805.0" text-anchor="end" font-size="10.8" fill="#111">IP: Stat3</text>
<text x="148.3" y="817.0" text-anchor="end" font-size="10.8" fill="#111">IB: Stat3</text>
<text x="148.0" y="845.0" text-anchor="end" font-size="10.8" fill="#111">Input Stat3</text>
<rect x="156.3" y="720.2" width="318.6" height="29.199999999999932" fill="none" stroke="#222" stroke-width="1.1"/>
<rect x="156.3" y="755.4" width="318.6" height="28.300000000000068" fill="none" stroke="#222" stroke-width="1.1"/>
<rect x="156.3" y="792.6" width="318.6" height="28.799999999999955" fill="none" stroke="#222" stroke-width="1.1"/>
<rect x="156.3" y="826.4" width="318.6" height="28.800000000000068" fill="none" stroke="#222" stroke-width="1.1"/>
<defs><filter id="bl" x="-20%" y="-200%" width="140%" height="500%"><feGaussianBlur stdDeviation="0.7 0.6"/></filter><filter id="bl2" x="-20%" y="-200%" width="140%" height="500%"><feGaussianBlur stdDeviation="1.6 1.2"/></filter><filter id="bl3" x="-20%" y="-200%" width="140%" height="500%"><feGaussianBlur stdDeviation="1.2 0.9"/></filter></defs>
<path d="M170.5 734.2 C172.5 733.3 173.5 733.2 175.5 733.2 L195.2 733.2 C197.2 733.2 198.2 733.3 200.2 734.2 C198.2 735.1 197.2 735.2 195.2 735.2 L175.5 735.2 C173.5 735.2 172.5 735.1 170.5 734.2 Z" fill="#000" fill-opacity="0.06" filter="url(#bl2)"/>
<path d="M211.5 733.4 C213.5 732.2 214.5 732.1 216.5 732.1 L237.6 732.1 C239.6 732.1 240.6 732.2 242.6 733.4 C240.6 734.6 239.6 734.7 237.6 734.7 L216.5 734.7 C214.5 734.7 213.5 734.6 211.5 733.4 Z" fill="#000" fill-opacity="0.3" filter="url(#bl2)"/>
<path d="M251.1 732.0 C253.1 730.4 254.1 730.2 256.1 730.2 L280.6 730.2 C282.6 730.2 283.6 730.4 285.6 732.0 C283.6 733.6 282.6 733.8 280.6 733.8 L256.1 733.8 C254.1 733.8 253.1 733.6 251.1 732.0 Z" fill="#000" fill-opacity="0.55" filter="url(#bl3)"/>
<path d="M253.0 731.8 C255.0 730.9 256.0 730.8 258.0 730.8 L278.6 730.8 C280.6 730.8 281.6 730.9 283.6 731.8 C281.6 732.7 280.6 732.8 278.6 732.8 L258.0 732.8 C256.0 732.8 255.0 732.7 253.0 731.8 Z" fill="#000" fill-opacity="0.45" filter="url(#bl)"/>
<path d="M293.0 732.2 C295.0 730.9 296.0 730.8 298.0 730.8 L320.2 730.8 C322.2 730.8 323.2 730.9 325.2 732.2 C323.2 733.5 322.2 733.6 320.2 733.6 L298.0 733.6 C296.0 733.6 295.0 733.5 293.0 732.2 Z" fill="#000" fill-opacity="0.5" filter="url(#bl2)"/>
<path d="M166.3 768.1 C168.3 766.2 169.3 766.0 171.3 766.0 L201.7 766.0 C203.7 766.0 204.7 766.2 206.7 768.1 C204.7 770.0 203.7 770.2 201.7 770.2 L171.3 770.2 C169.3 770.2 168.3 770.0 166.3 768.1 Z" fill="#000" fill-opacity="1.0" filter="url(#bl)"/>
<path d="M213.0 768.1 C215.0 766.2 216.0 766.0 218.0 766.0 L248.9 766.0 C250.9 766.0 251.9 766.2 253.9 768.1 C251.9 770.0 250.9 770.2 248.9 770.2 L218.0 770.2 C216.0 770.2 215.0 770.0 213.0 768.1 Z" fill="#000" fill-opacity="1.0" filter="url(#bl)"/>
<path d="M259.6 768.5 C261.6 766.2 262.6 765.9 264.6 765.9 L289.0 765.9 C291.0 765.9 292.0 766.2 294.0 768.5 C292.0 770.8 291.0 771.1 289.0 771.1 L264.6 771.1 C262.6 771.1 261.6 770.8 259.6 768.5 Z" fill="#000" fill-opacity="1.0" filter="url(#bl)"/>
<path d="M298.4 768.7 C300.4 766.7 301.4 766.5 303.4 766.5 L334.7 766.5 C336.7 766.5 337.7 766.7 339.7 768.7 C337.7 770.7 336.7 770.9 334.7 770.9 L303.4 770.9 C301.4 770.9 300.4 770.7 298.4 768.7 Z" fill="#000" fill-opacity="1.0" filter="url(#bl)"/>
<path d="M344.7 769.4 C346.7 767.7 347.7 767.5 349.7 767.5 L375.0 767.5 C377.0 767.5 378.0 767.7 380.0 769.4 C378.0 771.1 377.0 771.3 375.0 771.3 L349.7 771.3 C347.7 771.3 346.7 771.1 344.7 769.4 Z" fill="#000" fill-opacity="1.0" filter="url(#bl)" transform="rotate(1 362.4 769.4)"/>
<path d="M433.7 773.0 C435.7 771.3 436.7 771.1 438.7 771.1 L464.6 771.1 C466.6 771.1 467.6 771.3 469.6 773.0 C467.6 774.7 466.6 774.9 464.6 774.9 L438.7 774.9 C436.7 774.9 435.7 774.7 433.7 773.0 Z" fill="#000" fill-opacity="1.0" filter="url(#bl)" transform="rotate(5 451.6 773.0)"/>
<path d="M161.7 798.2 C163.7 796.0 164.7 795.7 166.7 795.7 L191.5 795.7 C193.5 795.7 194.5 796.0 196.5 798.2 C194.5 800.5 193.5 800.7 191.5 800.7 L166.7 800.7 C164.7 800.7 163.7 800.5 161.7 798.2 Z" fill="#000" fill-opacity="0.1" filter="url(#bl2)"/>
<path d="M161.7 809.2 C163.7 808.1 164.7 808.0 166.7 808.0 L191.5 808.0 C193.5 808.0 194.5 808.1 196.5 809.2 C194.5 810.3 193.5 810.4 191.5 810.4 L166.7 810.4 C164.7 810.4 163.7 810.3 161.7 809.2 Z" fill="#000" fill-opacity="0.16" filter="url(#bl2)"/>
<path d="M160.7 802.7 C162.7 801.2 163.7 801.0 165.7 801.0 L192.5 801.0 C194.5 801.0 195.5 801.2 197.5 802.7 C195.5 804.2 194.5 804.4 192.5 804.4 L165.7 804.4 C163.7 804.4 162.7 804.2 160.7 802.7 Z" fill="#000" fill-opacity="1.0" filter="url(#bl)"/>
<path d="M208.9 798.2 C210.9 796.0 211.9 795.7 213.9 795.7 L235.8 795.7 C237.8 795.7 238.8 796.0 240.8 798.2 C238.8 800.5 237.8 800.7 235.8 800.7 L213.9 800.7 C211.9 800.7 210.9 800.5 208.9 798.2 Z" fill="#000" fill-opacity="0.1" filter="url(#bl2)"/>
<path d="M208.9 809.2 C210.9 808.1 211.9 808.0 213.9 808.0 L235.8 808.0 C237.8 808.0 238.8 808.1 240.8 809.2 C238.8 810.3 237.8 810.4 235.8 810.4 L213.9 810.4 C211.9 810.4 210.9 810.3 208.9 809.2 Z" fill="#000" fill-opacity="0.16" filter="url(#bl2)"/>
<path d="M207.9 802.7 C209.9 801.4 210.9 801.2 212.9 801.2 L236.8 801.2 C238.8 801.2 239.8 801.4 241.8 802.7 C239.8 804.1 238.8 804.2 236.8 804.2 L212.9 804.2 C210.9 804.2 209.9 804.1 207.9 802.7 Z" fill="#000" fill-opacity="0.95" filter="url(#bl)"/>
<path d="M252.7 799.0 C254.7 796.8 255.7 796.5 257.7 796.5 L281.0 796.5 C283.0 796.5 284.0 796.8 286.0 799.0 C284.0 801.2 283.0 801.5 281.0 801.5 L257.7 801.5 C255.7 801.5 254.7 801.2 252.7 799.0 Z" fill="#000" fill-opacity="0.1" filter="url(#bl2)"/>
<path d="M252.7 810.0 C254.7 808.9 255.7 808.8 257.7 808.8 L281.0 808.8 C283.0 808.8 284.0 808.9 286.0 810.0 C284.0 811.1 283.0 811.2 281.0 811.2 L257.7 811.2 C255.7 811.2 254.7 811.1 252.7 810.0 Z" fill="#000" fill-opacity="0.16" filter="url(#bl2)"/>
<path d="M251.7 803.5 C253.7 802.1 254.7 802.0 256.7 802.0 L282.0 802.0 C284.0 802.0 285.0 802.1 287.0 803.5 C285.0 804.9 284.0 805.0 282.0 805.0 L256.7 805.0 C254.7 805.0 253.7 804.9 251.7 803.5 Z" fill="#000" fill-opacity="0.95" filter="url(#bl)"/>
<path d="M297.7 799.3 C299.7 797.0 300.7 796.8 302.7 796.8 L327.6 796.8 C329.6 796.8 330.6 797.0 332.6 799.3 C330.6 801.5 329.6 801.8 327.6 801.8 L302.7 801.8 C300.7 801.8 299.7 801.5 297.7 799.3 Z" fill="#000" fill-opacity="0.1" filter="url(#bl2)"/>
<path d="M297.7 810.3 C299.7 809.2 300.7 809.1 302.7 809.1 L327.6 809.1 C329.6 809.1 330.6 809.2 332.6 810.3 C330.6 811.4 329.6 811.5 327.6 811.5 L302.7 811.5 C300.7 811.5 299.7 811.4 297.7 810.3 Z" fill="#000" fill-opacity="0.16" filter="url(#bl2)"/>
<path d="M296.7 803.8 C298.7 802.4 299.7 802.2 301.7 802.2 L328.6 802.2 C330.6 802.2 331.6 802.4 333.6 803.8 C331.6 805.2 330.6 805.4 328.6 805.4 L301.7 805.4 C299.7 805.4 298.7 805.2 296.7 803.8 Z" fill="#000" fill-opacity="0.95" filter="url(#bl)"/>
<path d="M343.0 799.6 C345.0 797.4 346.0 797.1 348.0 797.1 L372.0 797.1 C374.0 797.1 375.0 797.4 377.0 799.6 C375.0 801.9 374.0 802.1 372.0 802.1 L348.0 802.1 C346.0 802.1 345.0 801.9 343.0 799.6 Z" fill="#000" fill-opacity="0.1" filter="url(#bl2)"/>
<path d="M343.0 810.6 C345.0 809.5 346.0 809.4 348.0 809.4 L372.0 809.4 C374.0 809.4 375.0 809.5 377.0 810.6 C375.0 811.7 374.0 811.8 372.0 811.8 L348.0 811.8 C346.0 811.8 345.0 811.7 343.0 810.6 Z" fill="#000" fill-opacity="0.16" filter="url(#bl2)"/>
<path d="M342.0 804.1 C344.0 803.1 345.0 803.0 347.0 803.0 L373.0 803.0 C375.0 803.0 376.0 803.1 378.0 804.1 C376.0 805.1 375.0 805.2 373.0 805.2 L347.0 805.2 C345.0 805.2 344.0 805.1 342.0 804.1 Z" fill="#000" fill-opacity="0.75" filter="url(#bl)"/>
<path d="M388.3 801.0 C390.3 798.8 391.3 798.5 393.3 798.5 L417.6 798.5 C419.6 798.5 420.6 798.8 422.6 801.0 C420.6 803.2 419.6 803.5 417.6 803.5 L393.3 803.5 C391.3 803.5 390.3 803.2 388.3 801.0 Z" fill="#000" fill-opacity="0.1" filter="url(#bl2)"/>
<path d="M388.3 812.0 C390.3 810.9 391.3 810.8 393.3 810.8 L417.6 810.8 C419.6 810.8 420.6 810.9 422.6 812.0 C420.6 813.1 419.6 813.2 417.6 813.2 L393.3 813.2 C391.3 813.2 390.3 813.1 388.3 812.0 Z" fill="#000" fill-opacity="0.16" filter="url(#bl2)"/>
<path d="M387.3 805.5 C389.3 804.1 390.3 804.0 392.3 804.0 L418.6 804.0 C420.6 804.0 421.6 804.1 423.6 805.5 C421.6 806.9 420.6 807.0 418.6 807.0 L392.3 807.0 C390.3 807.0 389.3 806.9 387.3 805.5 Z" fill="#000" fill-opacity="0.95" filter="url(#bl)"/>
<path d="M432.0 802.6 C434.0 800.4 435.0 800.1 437.0 800.1 L461.9 800.1 C463.9 800.1 464.9 800.4 466.9 802.6 C464.9 804.9 463.9 805.1 461.9 805.1 L437.0 805.1 C435.0 805.1 434.0 804.9 432.0 802.6 Z" fill="#000" fill-opacity="0.1" filter="url(#bl2)"/>
<path d="M432.0 813.6 C434.0 812.5 435.0 812.4 437.0 812.4 L461.9 812.4 C463.9 812.4 464.9 812.5 466.9 813.6 C464.9 814.7 463.9 814.8 461.9 814.8 L437.0 814.8 C435.0 814.8 434.0 814.7 432.0 813.6 Z" fill="#000" fill-opacity="0.16" filter="url(#bl2)"/>
<path d="M431.0 807.1 C433.0 805.5 434.0 805.3 436.0 805.3 L462.9 805.3 C464.9 805.3 465.9 805.5 467.9 807.1 C465.9 808.7 464.9 808.9 462.9 808.9 L436.0 808.9 C434.0 808.9 433.0 808.7 431.0 807.1 Z" fill="#000" fill-opacity="1.0" filter="url(#bl)"/>
<rect x="413.5" y="792.5" width="4" height="14" fill="#000" fill-opacity="0.12" filter="url(#bl2)"/>
<path d="M161.7 844.0 C163.7 842.8 164.7 842.7 166.7 842.7 L190.6 842.7 C192.6 842.7 193.6 842.8 195.6 844.0 C193.6 845.2 192.6 845.3 190.6 845.3 L166.7 845.3 C164.7 845.3 163.7 845.2 161.7 844.0 Z" fill="#000" fill-opacity="0.07" filter="url(#bl2)"/>
<path d="M160.7 838.0 C162.7 836.7 163.7 836.6 165.7 836.6 L191.6 836.6 C193.6 836.6 194.6 836.7 196.6 838.0 C194.6 839.3 193.6 839.4 191.6 839.4 L165.7 839.4 C163.7 839.4 162.7 839.3 160.7 838.0 Z" fill="#000" fill-opacity="0.92" filter="url(#bl)"/>
<path d="M208.9 843.4 C210.9 842.2 211.9 842.1 213.9 842.1 L237.3 842.1 C239.3 842.1 240.3 842.2 242.3 843.4 C240.3 844.6 239.3 844.7 237.3 844.7 L213.9 844.7 C211.9 844.7 210.9 844.6 208.9 843.4 Z" fill="#000" fill-opacity="0.07" filter="url(#bl2)"/>
<path d="M207.9 837.4 C209.9 836.1 210.9 836.0 212.9 836.0 L238.3 836.0 C240.3 836.0 241.3 836.1 243.3 837.4 C241.3 838.7 240.3 838.8 238.3 838.8 L212.9 838.8 C210.9 838.8 209.9 838.7 207.9 837.4 Z" fill="#000" fill-opacity="0.92" filter="url(#bl)"/>
<path d="M255.6 844.8 C257.6 843.6 258.6 843.5 260.6 843.5 L282.5 843.5 C284.5 843.5 285.5 843.6 287.5 844.8 C285.5 846.0 284.5 846.1 282.5 846.1 L260.6 846.1 C258.6 846.1 257.6 846.0 255.6 844.8 Z" fill="#000" fill-opacity="0.07" filter="url(#bl2)"/>
<path d="M254.6 838.8 C256.6 837.4 257.6 837.3 259.6 837.3 L283.5 837.3 C285.5 837.3 286.5 837.4 288.5 838.8 C286.5 840.1 285.5 840.3 283.5 840.3 L259.6 840.3 C257.6 840.3 256.6 840.1 254.6 838.8 Z" fill="#000" fill-opacity="0.95" filter="url(#bl)"/>
<path d="M300.4 845.0 C302.4 843.8 303.4 843.7 305.4 843.7 L329.3 843.7 C331.3 843.7 332.3 843.8 334.3 845.0 C332.3 846.2 331.3 846.3 329.3 846.3 L305.4 846.3 C303.4 846.3 302.4 846.2 300.4 845.0 Z" fill="#000" fill-opacity="0.07" filter="url(#bl2)"/>
<path d="M299.4 839.0 C301.4 837.6 302.4 837.4 304.4 837.4 L330.3 837.4 C332.3 837.4 333.3 837.6 335.3 839.0 C333.3 840.4 332.3 840.6 330.3 840.6 L304.4 840.6 C302.4 840.6 301.4 840.4 299.4 839.0 Z" fill="#000" fill-opacity="0.98" filter="url(#bl)"/>
<path d="M346.4 845.5 C348.4 844.3 349.4 844.2 351.4 844.2 L372.0 844.2 C374.0 844.2 375.0 844.3 377.0 845.5 C375.0 846.7 374.0 846.8 372.0 846.8 L351.4 846.8 C349.4 846.8 348.4 846.7 346.4 845.5 Z" fill="#000" fill-opacity="0.07" filter="url(#bl2)"/>
<path d="M345.4 839.5 C347.4 838.5 348.4 838.4 350.4 838.4 L373.0 838.4 C375.0 838.4 376.0 838.5 378.0 839.5 C376.0 840.5 375.0 840.6 373.0 840.6 L350.4 840.6 C348.4 840.6 347.4 840.5 345.4 839.5 Z" fill="#000" fill-opacity="0.22" filter="url(#bl)"/>
<path d="M390.0 845.0 C392.0 843.8 393.0 843.7 395.0 843.7 L418.3 843.7 C420.3 843.7 421.3 843.8 423.3 845.0 C421.3 846.2 420.3 846.3 418.3 846.3 L395.0 846.3 C393.0 846.3 392.0 846.2 390.0 845.0 Z" fill="#000" fill-opacity="0.07" filter="url(#bl2)"/>
<path d="M389.0 839.0 C391.0 837.6 392.0 837.5 394.0 837.5 L419.3 837.5 C421.3 837.5 422.3 837.6 424.3 839.0 C422.3 840.4 421.3 840.5 419.3 840.5 L394.0 840.5 C392.0 840.5 391.0 840.4 389.0 839.0 Z" fill="#000" fill-opacity="0.95" filter="url(#bl)"/>
<path d="M435.3 846.0 C437.3 844.8 438.3 844.7 440.3 844.7 L463.6 844.7 C465.6 844.7 466.6 844.8 468.6 846.0 C466.6 847.2 465.6 847.3 463.6 847.3 L440.3 847.3 C438.3 847.3 437.3 847.2 435.3 846.0 Z" fill="#000" fill-opacity="0.07" filter="url(#bl2)"/>
<path d="M434.3 840.0 C436.3 838.7 437.3 838.6 439.3 838.6 L464.6 838.6 C466.6 838.6 467.6 838.7 469.6 840.0 C467.6 841.3 466.6 841.4 464.6 841.4 L439.3 841.4 C437.3 841.4 436.3 841.3 434.3 840.0 Z" fill="#000" fill-opacity="0.85" filter="url(#bl)"/>
<ellipse cx="447.8" cy="835.5" rx="5" ry="3" fill="#000" fill-opacity="0.10" filter="url(#bl2)"/>
</svg></body></html>
